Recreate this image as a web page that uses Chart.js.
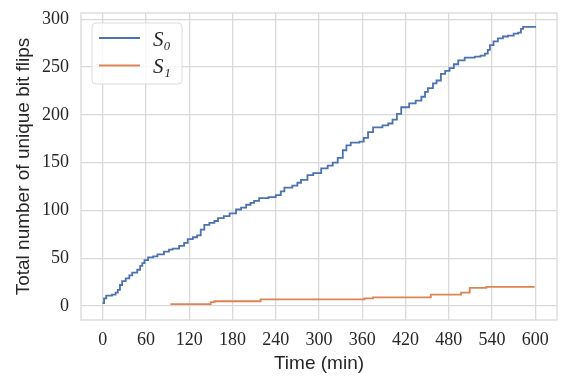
<!DOCTYPE html>
<html>
<head>
<meta charset="utf-8">
<script src="https://cdn.jsdelivr.net/npm/chart.js@4.4.1/dist/chart.umd.min.js"></script>
<style>
  html, body { margin: 0; padding: 0; background: #ffffff; }
  #wrap { width: 570px; height: 381px; position: relative; }
</style>
</head>
<body>
<div id="wrap"><canvas id="c" width="570" height="381"></canvas></div>
<script>
// ---- data ----
const seriesNames = ['S\u2080', 'S\u2081'];
const s0Times  = [0, 2, 5, 13, 18, 21, 24, 27, 32, 37, 41, 48, 52, 55, 58, 63, 70, 76, 85, 92, 97, 106, 113, 118, 125, 131, 136, 141, 148, 155, 160, 168, 176, 185, 192, 199, 205, 210, 217, 230, 240, 247, 252, 263, 270, 275, 284, 292, 303, 312, 319, 326, 333, 338, 344, 356, 362, 368, 375, 388, 396, 402, 408, 414, 425, 434, 442, 447, 451, 458, 463, 469, 475, 481, 487, 493, 502, 516, 524, 530, 534, 537, 542, 548, 555, 562, 570, 576, 580, 583, 601];
const s0Counts = [3, 8, 11, 12, 14, 17, 22, 26, 29, 32, 35, 38, 42, 45, 48, 51, 52, 54, 57, 59, 60, 63, 66, 70, 72, 74, 80, 85, 87, 89, 92, 94, 97, 101, 103, 106, 108, 110, 113, 114, 116, 120, 124, 126, 129, 132, 137, 139, 144, 147, 150, 155, 163, 168, 171, 172, 176, 182, 187, 189, 191, 195, 201, 208, 212, 215, 219, 224, 228, 233, 236, 243, 246, 249, 253, 257, 260, 261, 262, 264, 268, 273, 277, 280, 282, 283, 285, 286, 290, 292, 292];
const s1Times  = [94, 150, 155, 219, 363, 375, 455, 497, 509, 532, 599];
const s1Counts = [2, 4, 5, 7, 8, 9, 12, 14, 19, 20, 20];
const xTickValues = [0, 60, 120, 180, 240, 300, 360, 420, 480, 540, 600];
const yTickValues = [0, 50, 100, 150, 200, 250, 300];
const xTitle = 'Time (min)';
const yTitle = 'Total number of unique bit flips';

const colors = ['#4c72b0', '#dd8452'];
const gridColor = '#d9d9d9';
const textColor = '#262626';

const toPts = (xs, ys) => xs.map((x, i) => ({ x: x, y: ys[i] }));

const frameAndLegend = {
  id: 'frameAndLegend',
  afterDatasetsDraw(chart) {
    const ctx = chart.ctx;
    const a = chart.chartArea;
    ctx.save();
    ctx.strokeStyle = gridColor;
    ctx.lineWidth = 1.3;
    ctx.strokeRect(a.left, a.top, a.right - a.left, a.bottom - a.top);
    // legend box
    const bx = 92, by = 23, bw = 90, bh = 61, r = 4;
    ctx.beginPath();
    ctx.moveTo(bx + r, by);
    ctx.lineTo(bx + bw - r, by);
    ctx.quadraticCurveTo(bx + bw, by, bx + bw, by + r);
    ctx.lineTo(bx + bw, by + bh - r);
    ctx.quadraticCurveTo(bx + bw, by + bh, bx + bw - r, by + bh);
    ctx.lineTo(bx + r, by + bh);
    ctx.quadraticCurveTo(bx, by + bh, bx, by + bh - r);
    ctx.lineTo(bx, by + r);
    ctx.quadraticCurveTo(bx, by, bx + r, by);
    ctx.closePath();
    ctx.fillStyle = 'rgba(255,255,255,0.8)';
    ctx.fill();
    ctx.strokeStyle = '#dcdcdc';
    ctx.lineWidth = 1;
    ctx.stroke();
    chart.data.datasets.forEach((ds, i) => {
      const y = 38 + i * 27.5;
      ctx.strokeStyle = ds.borderColor;
      ctx.lineWidth = 1.8;
      ctx.beginPath();
      ctx.moveTo(99, y);
      ctx.lineTo(140, y);
      ctx.stroke();
      ctx.fillStyle = textColor;
      ctx.font = 'italic 21px "Liberation Serif"';
      ctx.textBaseline = 'middle';
      ctx.textAlign = 'left';
      ctx.fillText(ds.label, 153, y + 2);
    });
    ctx.restore();
  }
};

new Chart(document.getElementById('c'), {
  type: 'line',
  data: {
    datasets: [
      { label: seriesNames[0], data: toPts(s0Times, s0Counts), borderColor: colors[0], backgroundColor: colors[0], borderWidth: 1.8, pointRadius: 0, stepped: true, fill: false },
      { label: seriesNames[1], data: toPts(s1Times, s1Counts), borderColor: colors[1], backgroundColor: colors[1], borderWidth: 1.8, pointRadius: 0, stepped: true, fill: false }
    ]
  },
  options: {
    responsive: false,
    animation: false,
    layout: { padding: { top: 13, right: 13, left: 0, bottom: 0 } },
    plugins: { legend: { display: false }, tooltip: { enabled: false } },
    scales: {
      x: {
        type: 'linear',
        min: -30, max: 630,
        afterBuildTicks: (s) => { s.ticks = xTickValues.map(v => ({ value: v })); },
        afterFit: (s) => { s.height = 61; s.paddingLeft = 0; s.paddingRight = 0; },
        grid: { color: gridColor, lineWidth: 1.3, drawTicks: false },
        border: { display: false },
        ticks: { color: textColor, font: { family: '"Liberation Serif"', size: 18 }, padding: 9, maxRotation: 0, autoSkip: false },
        title: { display: true, text: xTitle, color: textColor, font: { family: '"Liberation Sans"', size: 19 }, padding: { top: 0, bottom: 6 } }
      },
      y: {
        type: 'linear',
        min: -14.6, max: 306.6,
        afterBuildTicks: (s) => { s.ticks = yTickValues.map(v => ({ value: v })); },
        afterFit: (s) => { s.width = 81; s.paddingTop = 0; s.paddingBottom = 0; },
        grid: { color: gridColor, lineWidth: 1.3, drawTicks: false },
        border: { display: false },
        ticks: { color: textColor, font: { family: '"Liberation Serif"', size: 18 }, padding: 12, autoSkip: false },
        title: { display: true, text: yTitle, color: textColor, font: { family: '"Liberation Sans"', size: 19 }, padding: { top: 12, bottom: 0 } }
      }
    }
  },
  plugins: [frameAndLegend]
});
</script>
</body>
</html>
